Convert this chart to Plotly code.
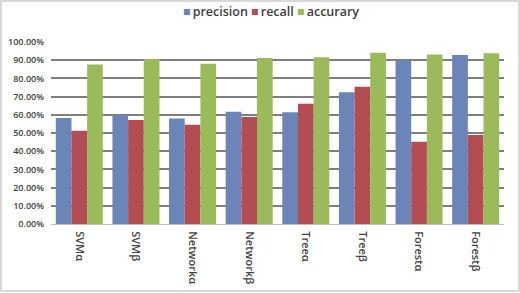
import plotly.graph_objects as go

categories = ["SVMα", "SVMβ", "Networkα", "Networkβ", "Treeα", "Treeβ", "Forestα", "Forestβ"]
precision = [0.582, 0.599, 0.579, 0.617, 0.614, 0.724, 0.899, 0.929]
recall = [0.513, 0.571, 0.546, 0.588, 0.661, 0.754, 0.452, 0.489]
accurary = [0.877, 0.907, 0.881, 0.912, 0.916, 0.941, 0.932, 0.938]

series = [("precision", precision, "#6B85B9"),
          ("recall", recall, "#B24D53"),
          ("accurary", accurary, "#9BBB5B")]

fig = go.Figure()
for name, vals, col in series:
    fig.add_trace(go.Bar(x=categories, y=vals, name=name, marker_color=col,
                         marker_line_width=0, showlegend=False))

W, H = 520, 293
ml, mr, mt, mb = 51, 16, 42, 69
pw, ph = W - ml - mr, H - mt - mb

legend_text = "&nbsp;".join(
    f"<span style='color:{col}'>■</span>&#8201;{name}" for name, _, col in series
)

fig.update_layout(
    width=W, height=H,
    margin=dict(l=ml, r=mr, t=mt, b=mb, autoexpand=False),
    paper_bgcolor="white", plot_bgcolor="white",
    barmode="group", bargap=0.17, bargroupgap=0,
    font=dict(family="Open Sans", color="#404040"),
    showlegend=False,
    annotations=[dict(text=legend_text, xref="paper", yref="paper",
                      x=(271 - ml) / pw, xanchor="center",
                      y=1 + (mt - 12) / ph, yanchor="middle", showarrow=False,
                      font=dict(size=12.5, family="Open Sans", weight=600, color="#404040"))],
    shapes=[dict(type="rect", xref="paper", yref="paper",
                 x0=-(ml - 1) / pw, x1=1 + (mr - 1) / pw,
                 y0=-(mb - 2) / ph, y1=1 + (mt - 1) / ph,
                 line=dict(color="#D9D9D9", width=2), layer="below")],
)
fig.update_yaxes(range=[0, 1], dtick=0.1, tickformat=".2%",
                 showgrid=True, gridcolor="#7F7F7F", gridwidth=1.5,
                 zeroline=False, showline=False,
                 ticks="", ticklabelstandoff=6,
                 tickfont=dict(size=9, family="Open Sans", weight=600, color="#404040"))
fig.update_xaxes(tickangle=90, showline=True, linecolor="#BFBFBF", linewidth=1,
                 ticks="", ticklabelstandoff=4,
                 tickfont=dict(size=11, family="Open Sans", weight=600, color="#404040"))

fig.write_html("out.html")
